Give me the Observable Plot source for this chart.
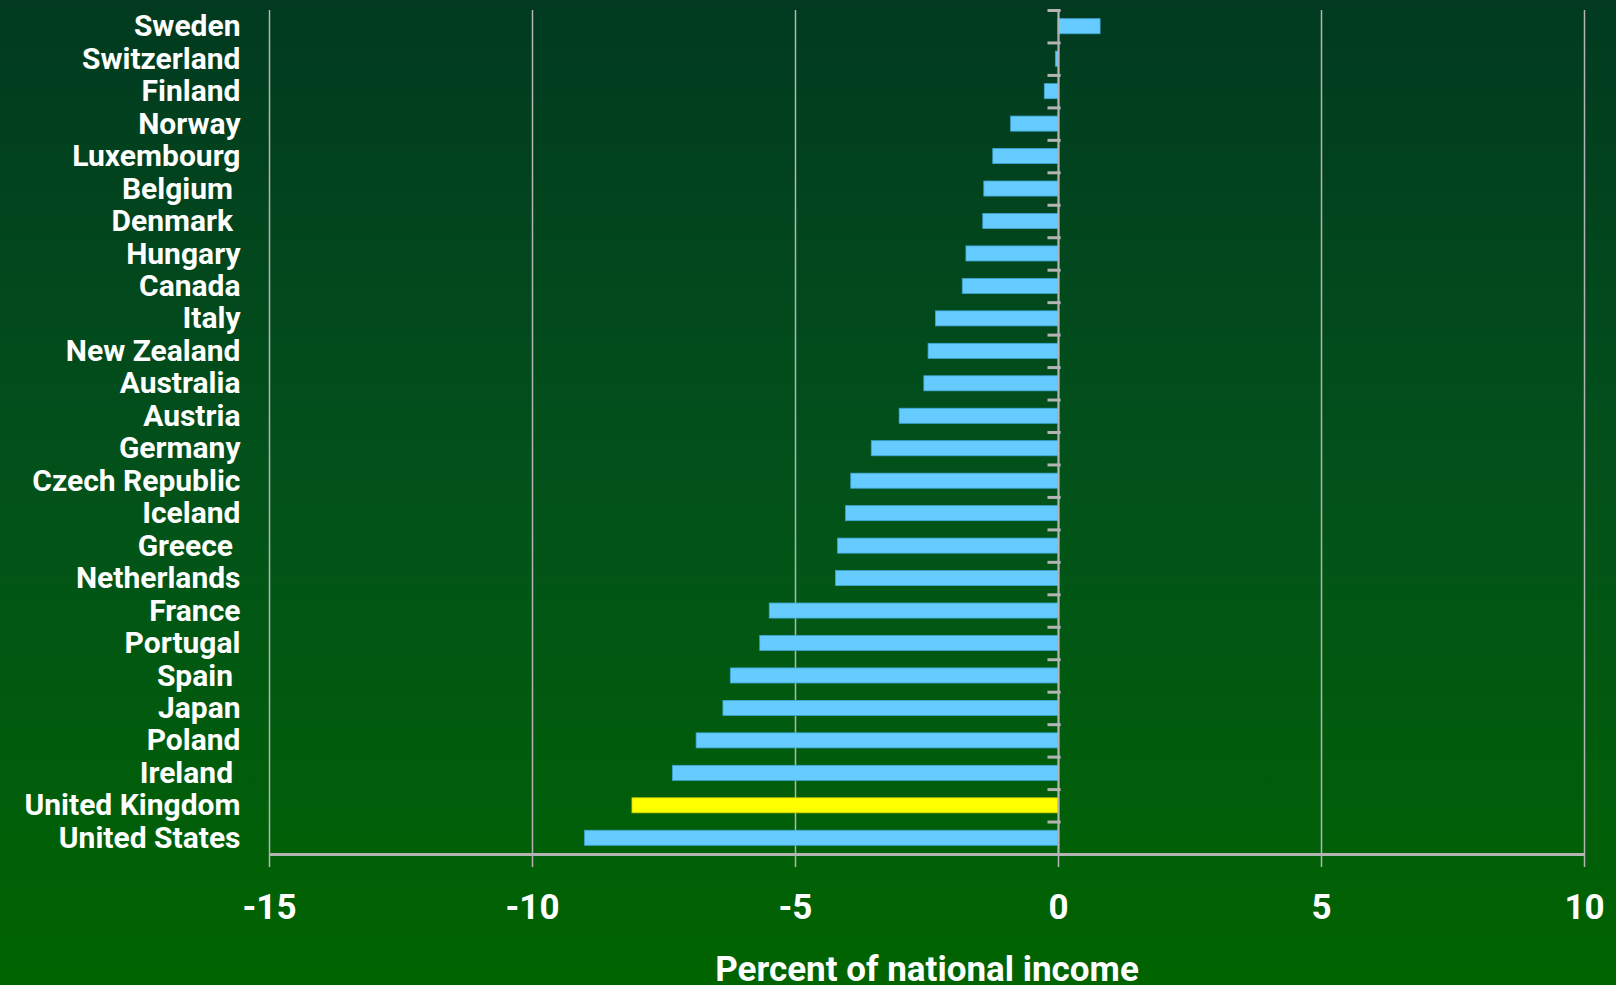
<!DOCTYPE html>
<html>
<head>
<meta charset="utf-8">
<script src="https://cdn.jsdelivr.net/npm/d3@7"></script>
<script src="https://cdn.jsdelivr.net/npm/@observablehq/plot@0.6"></script>
<style>
  html, body { margin: 0; padding: 0; overflow: hidden; background: #004a18; }
  #chart svg { display: block; }
</style>
</head>
<body>
<div id="chart"></div>
<script>
// Countries, top to bottom (trailing non-breaking spaces reproduce the source's label offsets)
const countries = [
  "Sweden", "Switzerland", "Finland", "Norway", "Luxembourg", "Belgium\u00a0", "Denmark\u00a0",
  "Hungary", "Canada", "Italy", "New Zealand", "Australia", "Austria", "Germany",
  "Czech Republic", "Iceland", "Greece\u00a0", "Netherlands", "France", "Portugal", "Spain\u00a0",
  "Japan", "Poland", "Ireland\u00a0", "United Kingdom", "United States"
];
const values = [
  0.80, -0.05, -0.26, -0.90, -1.24, -1.41, -1.43,
  -1.75, -1.82, -2.33, -2.47, -2.55, -3.02, -3.55,
  -3.94, -4.04, -4.19, -4.23, -5.49, -5.67, -6.23,
  -6.37, -6.88, -7.33, -8.10, -9.00
];
const highlighted = ["United Kingdom"];
const xTicks = [-15, -10, -5, 0, 5, 10];
const axisTitle = "Percent of national income";

const data = countries.map((c, i) => ({country: c, value: values[i], index: i}));
const boundaries = d3.range(countries.length);   // band edges for the category ticks
const labelPositions = countries.map((c, i) => i + 0.5);

const gray = "#b4b4b4";
const font = "Roboto, Lato, 'DejaVu Sans Condensed', sans-serif";

const chart = Plot.plot({
  width: 1616,
  height: 985,
  marginLeft: 269,
  marginRight: 32,
  marginTop: 10,
  marginBottom: 131,
  style: {
    background: "linear-gradient(to bottom, #013a20 0%, #02521a 50%, #006400 100%)",
    fontFamily: font,
    fontWeight: "bold",
    color: "white"
  },
  x: {domain: [-15, 10]},
  y: {domain: [0, countries.length], reverse: true},
  marks: [
    Plot.gridX(xTicks, {stroke: gray, strokeOpacity: 1, strokeWidth: 1.5, y1: 0, y2: countries.length}),
    Plot.axisX(xTicks, {
      anchor: "bottom",
      tickSize: 13,
      tickPadding: 27,
      stroke: gray,
      strokeWidth: 1.5,
      fontSize: 35,
      fill: "white",
      label: axisTitle,
      labelArrow: "none",
      labelAnchor: "center",
      labelOffset: 126,
      tickFormat: d => d < 0 ? "-" + Math.abs(d) : String(d)
    }),
    Plot.axisY(labelPositions, {
      anchor: "left",
      tickSize: 0,
      tickPadding: 29,
      fontSize: 30,
      letterSpacing: "-0.6px",
      fill: "white",
      label: null,
      tickFormat: (d) => countries[Math.floor(d)]
    }),
    Plot.rectX(data, {
      x1: 0,
      x2: "value",
      y1: "index",
      y2: d => d.index + 1,
      insetTop: 8.7,
      insetBottom: 8.7,
      fill: d => highlighted.includes(d.country) ? "#ffff00" : "#66ccff",
      stroke: d => highlighted.includes(d.country) ? "#c8c800" : "#3fa6d6",
      strokeWidth: 0.8
    }),
    Plot.ruleX([0], {stroke: gray, strokeWidth: 2, y1: 0, y2: countries.length}),
    Plot.ruleY(boundaries, {x1: -0.2, x2: 0.05, stroke: gray, strokeWidth: 3}),
    Plot.ruleY([countries.length], {stroke: gray, strokeWidth: 3})
  ]
});

document.getElementById("chart").appendChild(chart);
</script>
</body>
</html>
